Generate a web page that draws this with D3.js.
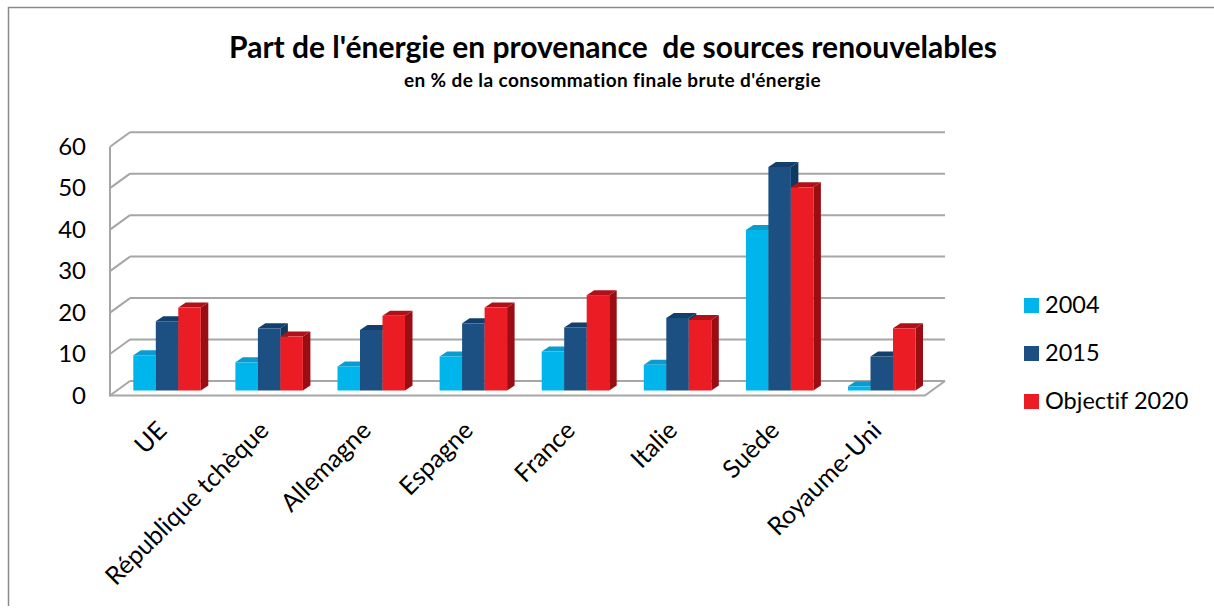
<!DOCTYPE html>
<html><head><meta charset="utf-8">
<script src="https://cdn.jsdelivr.net/npm/d3@7"></script>
<style>html,body{margin:0;padding:0;background:#fff}svg{display:block}text{font-family:Lato,"Open Sans",sans-serif;fill:#000;font-variant-ligatures:none}</style>
</head><body><div id="c"></div>
<script>
const categories=["UE","République tchèque","Allemagne","Espagne","France","Italie","Suède","Royaume-Uni"];
const seriesNames=["2004","2015","Objectif 2020"];
const v2004=[8.5,6.8,5.8,8.2,9.4,6.2,38.7,1.0];
const v2015=[16.7,15,14.6,16.2,15.2,17.5,53.9,8.2];
const vObjectif=[20,13,18,20,23,17,49,15];
const yTicks=[0,10,20,30,40,50,60];
const colors=[{f:"#00b5ec",t:"#0a9ccd",s:"#0a8fbd"},{f:"#1c5083",t:"#123f6b",s:"#0f3a60"},{f:"#ec1c24",t:"#b01018",s:"#9a0d12"}];

const W=1214,H=610,depthX=20,depthY=14.5;
const svg=d3.select("#c").append("svg").attr("width",W).attr("height",H);
// frame
svg.append("path").attr("d",`M8.5,${H-4} V7.5 H1214`).attr("fill","none").attr("stroke","#8a8a8a").attr("stroke-width",1.5);

// front-plane value scale
const y=d3.scaleLinear().domain([0,60]).range([395.5,146.7]);
const plotL=110,plotR=925;
const grid="#a6a6a6";
const g=svg.append("g");
yTicks.forEach(t=>{
  const yy=y(t);
  g.append("line").attr("x1",plotL).attr("y1",yy).attr("x2",plotL+depthX).attr("y2",yy-depthY).attr("stroke",grid).attr("stroke-width",2);
  g.append("line").attr("x1",plotL+depthX).attr("y1",yy-depthY).attr("x2",plotR+depthX).attr("y2",yy-depthY).attr("stroke",grid).attr("stroke-width",2);
});
g.append("line").attr("x1",plotL).attr("y1",y(60)).attr("x2",plotL).attr("y2",y(0)+1).attr("stroke",grid).attr("stroke-width",2);
g.append("line").attr("x1",plotL).attr("y1",y(0)).attr("x2",plotR).attr("y2",y(0)).attr("stroke",grid).attr("stroke-width",2);
g.append("line").attr("x1",plotR).attr("y1",y(0)).attr("x2",plotR+depthX).attr("y2",y(0)-depthY).attr("stroke",grid).attr("stroke-width",2);

// y tick labels
svg.selectAll("text.yt").data(yTicks).join("text").attr("class","yt")
  .attr("x",86).attr("y",d=>y(d)+8).attr("text-anchor","end").attr("font-size",24).text(d=>d);

// bars
const x0=d3.scaleBand().domain(categories).range([121.8,121.8+102.1*8]);
const x1=d3.scaleBand().domain(seriesNames).range([11.5,79]);
const vals=[v2004,v2015,vObjectif];
const baseY=y(0)-5, dx=7.5, dy=5;
const bh=d=>y(0)-y(d);
categories.forEach(c=>{
  const i=categories.indexOf(c);
  const gg=svg.append("g");
  seriesNames.forEach((s,j)=>{
    const v=vals[j][i],X=x0(c)+x1(s),w=x1.bandwidth(),top=baseY-bh(v),col=colors[j];
    gg.append("path").attr("fill",col.s).attr("d",`M${X+w},${top} l${dx},${-dy} V${baseY-dy} l${-dx},${dy} Z`);
    gg.append("path").attr("fill",col.t).attr("d",`M${X},${top} l${dx},${-dy} h${w} l${-dx},${dy} Z`);
    gg.append("rect").attr("x",X).attr("y",top).attr("width",w).attr("height",bh(v)).attr("fill",col.f);
  });
});

// category labels
svg.selectAll("text.cat").data(categories).join("text").attr("class","cat")
  .attr("text-anchor","end").attr("font-size",25)
  .attr("transform",d=>`translate(${x0(d)+11.5+35},432) rotate(-45)`).text(d=>d);

// titles
svg.append("text").attr("x",613).attr("y",58).attr("text-anchor","middle").attr("font-size",30).attr("font-weight",700).attr("xml:space","preserve").text("Part de l'énergie en provenance  de sources renouvelables");
svg.append("text").attr("x",612.5).attr("y",87).attr("text-anchor","middle").attr("font-size",19).attr("letter-spacing",0.4).attr("font-weight",700).text("en % de la consommation finale brute d'énergie");

// legend
const leg=svg.selectAll("g.l").data(seriesNames).join("g").attr("class","l").attr("transform",(d,i)=>`translate(1024,${298+48*i})`);
leg.append("rect").attr("width",15).attr("height",15).attr("fill",(d,i)=>colors[i].f);
leg.append("text").attr("x",21).attr("y",15).attr("font-size",23.5).text(d=>d);
</script></body></html>
